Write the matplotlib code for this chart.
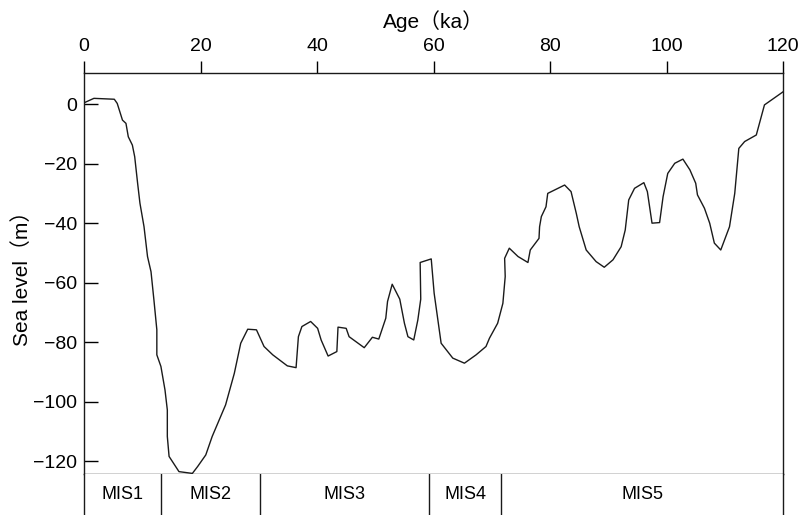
import matplotlib
matplotlib.use("Agg")
from matplotlib import pyplot as plt

plt.rcParams['font.family'] = ['Liberation Sans', 'Noto Sans CJK SC', 'DejaVu Sans']

# sea level curve
age = [0, 1.7, 5.2, 5.7, 6.6, 7.2, 7.6, 8.3, 8.7, 9.2, 9.6, 10.3, 10.9, 11.5, 12.0,
       12.5, 12.5, 13.2, 13.9, 14.3, 14.3, 14.6, 16.3, 18.6, 19.5, 20.9, 22.0, 24.3,
       25.8, 26.9, 28.1, 29.6, 30.9, 32.4, 34.9, 36.4, 36.8, 37.4, 38.9, 40.1, 40.7,
       41.9, 43.4, 43.6, 45.0, 45.5, 48.1, 49.5, 50.6, 51.8, 52.1, 52.9, 54.2, 55.0,
       55.6, 56.6, 57.3, 57.8, 57.7, 59.6, 60.1, 61.3, 63.3, 65.3, 67.3, 69.0, 69.6,
       71.0, 71.9, 72.3, 72.2, 73.0, 74.5, 76.2, 76.6, 78.1, 78.2, 78.5, 79.3, 79.6,
       82.5, 83.6, 84.5, 85.0, 86.2, 87.9, 89.3, 90.8, 92.2, 92.9, 93.5, 94.5, 96.1,
       96.7, 97.5, 98.8, 99.4, 100.2, 101.4, 102.8, 104.0, 105.0, 105.3, 106.5, 107.4,
       108.2, 109.3, 110.8, 111.7, 112.4, 113.4, 115.4, 116.8, 120.0]
sea_level = [0.4, 1.9, 1.6, 0.2, -5.4, -6.5, -11, -13.8, -17.7, -26.6, -33.3, -41.2, -51.2,
             -56.3, -65.8, -75.8, -84.2, -88.1, -96, -102.7, -111.6, -118.3, -123.4, -124,
             -121.7, -117.8, -111.6, -101, -90.4, -80.3, -75.6, -75.8, -81.4, -84.2, -87.9,
             -88.5, -78.1, -74.7, -73, -75.3, -79.2, -84.6, -83.1, -74.9, -75.3, -78.1,
             -81.8, -78.3, -78.9, -71.9, -66.3, -60.5, -65.5, -73.6, -78.1, -79.2, -72.5,
             -65.5, -53.2, -52, -63.5, -80.3, -85.3, -87, -84.2, -81.4, -78.6, -73.6, -66.9,
             -57.9, -51.8, -48.4, -51.2, -53.2, -49, -45.1, -41.2, -37.8, -34.5, -30,
             -27.2, -29.4, -36.7, -41.2, -49, -52.9, -54.8, -52.3, -47.9, -42.3, -32.2,
             -28.3, -26.4, -29.4, -40, -39.8, -31.1, -23.3, -19.9, -18.5, -22.1, -26.6,
             -30.5, -35, -40, -46.7, -49, -41.2, -30, -14.9, -12.6, -10.4, -0.3, 4.1]

# marine isotope stages
mis_names = ["MIS1", "MIS2", "MIS3", "MIS4", "MIS5"]
mis_bounds = [0, 13.3, 30.2, 59.3, 71.6, 120]

fig = plt.figure(figsize=(8.04, 5.15), dpi=100)
ax = fig.add_axes([0.1045, 0.0796, 0.8695, 0.7786])
ax.plot(age, sea_level, color="#1a1a1a", lw=1.0)
ax.set_xlim(0, 120)
ax.set_ylim(-124.2, 10.4)
ax.xaxis.tick_top()
ax.xaxis.set_label_position("top")
ax.set_xticks([0, 20, 40, 60, 80, 100, 120])
ax.set_yticks([0, -20, -40, -60, -80, -100, -120])
ax.tick_params(axis="x", direction="out", length=9, width=1, labelsize=14, pad=4)
ax.tick_params(axis="y", direction="in", length=10, width=1, labelsize=14, pad=5)
ax.set_xlabel("Age（ka）", fontsize=15, labelpad=7)
ax.set_ylabel("Sea level（m）", fontsize=15, labelpad=1)
for s in ax.spines.values():
    s.set_linewidth(1.0)
    s.set_color("#1a1a1a")

# stage bar under the curve
bar = fig.add_axes([0.1045, 0.0, 0.8695, 0.0796])
bar.set_xlim(0, 120)
bar.set_ylim(0, 1)
bar.set_xticks([])
bar.set_yticks([])
bar.spines["bottom"].set_visible(False)
bar.spines["top"].set_visible(False)
for s in bar.spines.values():
    s.set_linewidth(1.0)
    s.set_color("#1a1a1a")
for b in mis_bounds[1:-1]:
    bar.axvline(b, color="#1a1a1a", lw=1.0)
for i, name in enumerate(mis_names):
    mid = (mis_bounds[i] + mis_bounds[i + 1]) / 2
    bar.text(mid, 0.5, name, ha="center", va="center", fontsize=13)

fig.savefig("out.png", dpi=100)
